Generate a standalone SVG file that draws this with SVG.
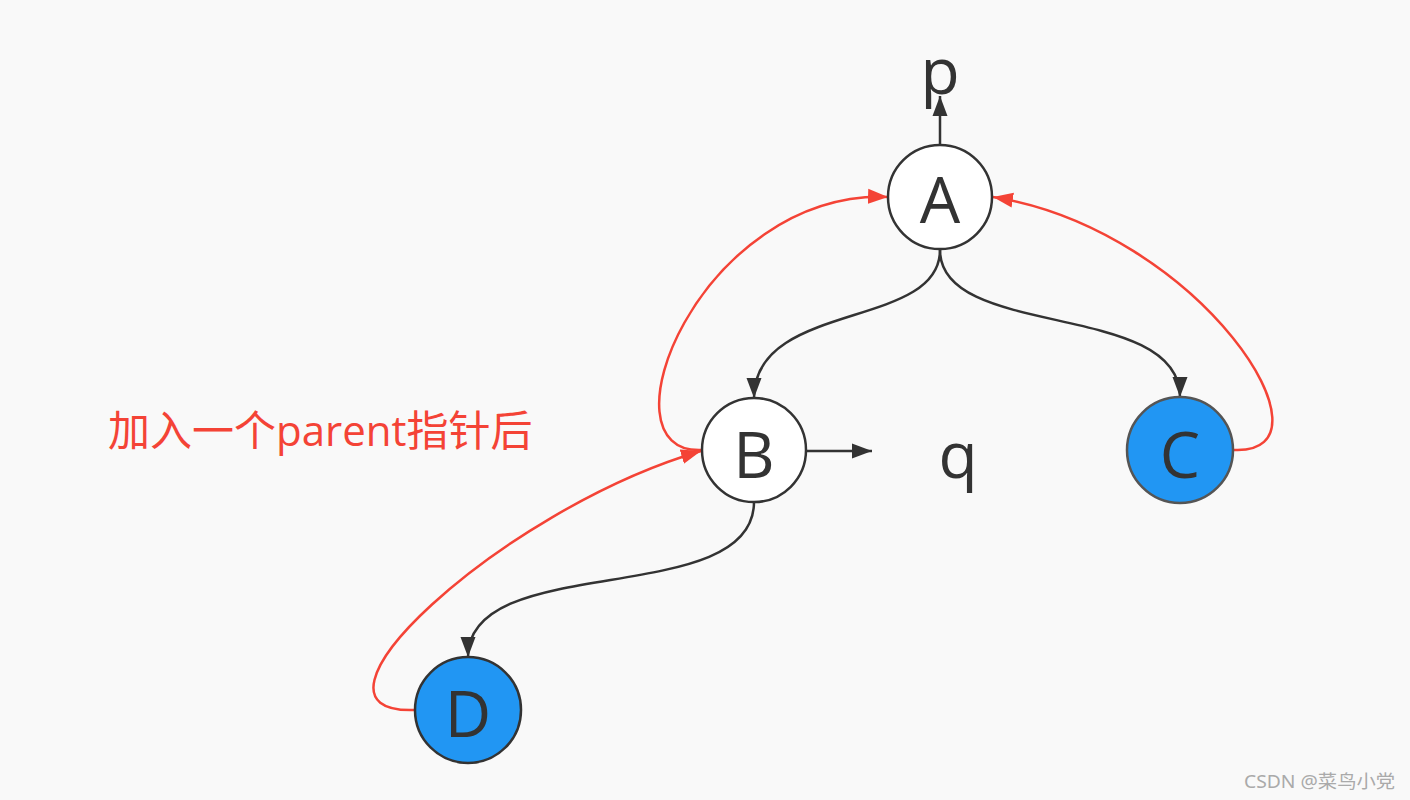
<svg xmlns="http://www.w3.org/2000/svg" width="1410" height="800" viewBox="0 0 1410 800">
<defs>
<style>
.bg{fill:#f9f9f9}
.node{stroke:#333;stroke-width:2.5}
.white{fill:#fff}
.blue{fill:#2196f3}
.lbl{font-family:"Open Sans","Noto Sans","Liberation Sans",sans-serif;font-size:64px;fill:#333;text-anchor:middle}
.blk{fill:none;stroke:#333;stroke-width:2.5}
.red{fill:none;stroke:#f44336;stroke-width:2.5}
</style>
<marker id="ab" markerUnits="userSpaceOnUse" markerWidth="21" markerHeight="16" refX="20" refY="8" orient="auto"><path d="M0,0.5 L20,8 L0,15.5 z" fill="#333"/></marker>
<marker id="ar" markerUnits="userSpaceOnUse" markerWidth="21" markerHeight="16" refX="20" refY="8" orient="auto"><path d="M0,0.5 L20,8 L0,15.5 z" fill="#f44336"/></marker>
</defs>
<rect class="bg" x="0" y="0" width="1410" height="800"/>
<g id="connectors">
<path class="blk" d="M940,145 L940,96" marker-end="url(#ab)"/>
<path class="blk" d="M807,451 L872,451" marker-end="url(#ab)"/>
<path class="blk" d="M940,250 C940,330 754,300 754,398" marker-end="url(#ab)"/>
<path class="blk" d="M940,250 C940,340 1180,300 1180,397" marker-end="url(#ab)"/>
<path class="blk" d="M754,502 C754,610 468,550 468,657" marker-end="url(#ab)"/>
<path class="red" d="M702,450 C595,455 700,190 888,197" marker-end="url(#ar)"/>
<path class="red" d="M1234,450 C1345,455 1200,230 993,197" marker-end="url(#ar)"/>
<path class="red" d="M415,710 C280,715 500,510 701,451" marker-end="url(#ar)"/>
</g>
<g id="node-A"><circle class="node white" cx="940" cy="197" r="52"/><text class="lbl" x="940" y="223">A</text></g>
<g id="node-B"><circle class="node white" cx="754" cy="450" r="52"/><text class="lbl" x="754" y="478">B</text></g>
<g id="node-C"><circle class="node blue" style="stroke:#555" cx="1180" cy="450" r="53"/><text class="lbl" x="1180" y="478">C</text></g>
<g id="node-D"><circle class="node blue" cx="468" cy="710" r="53"/><text class="lbl" x="468" y="737">D</text></g>
<g id="label-p"><text class="lbl" x="940" y="94">p</text></g>
<g id="label-q"><text class="lbl" x="958" y="478">q</text></g>
<g id="caption"><text x="108" y="446" font-family="'Open Sans','Noto Sans CJK SC',sans-serif" font-size="42" fill="#f44336">加入一个parent指针后</text></g>
<text x="1244" y="788" textLength="151" lengthAdjust="spacingAndGlyphs" font-family="'Noto Sans','Noto Sans CJK SC',sans-serif" font-size="18" fill="#aaa">CSDN @菜鸟小党</text>
</svg>
